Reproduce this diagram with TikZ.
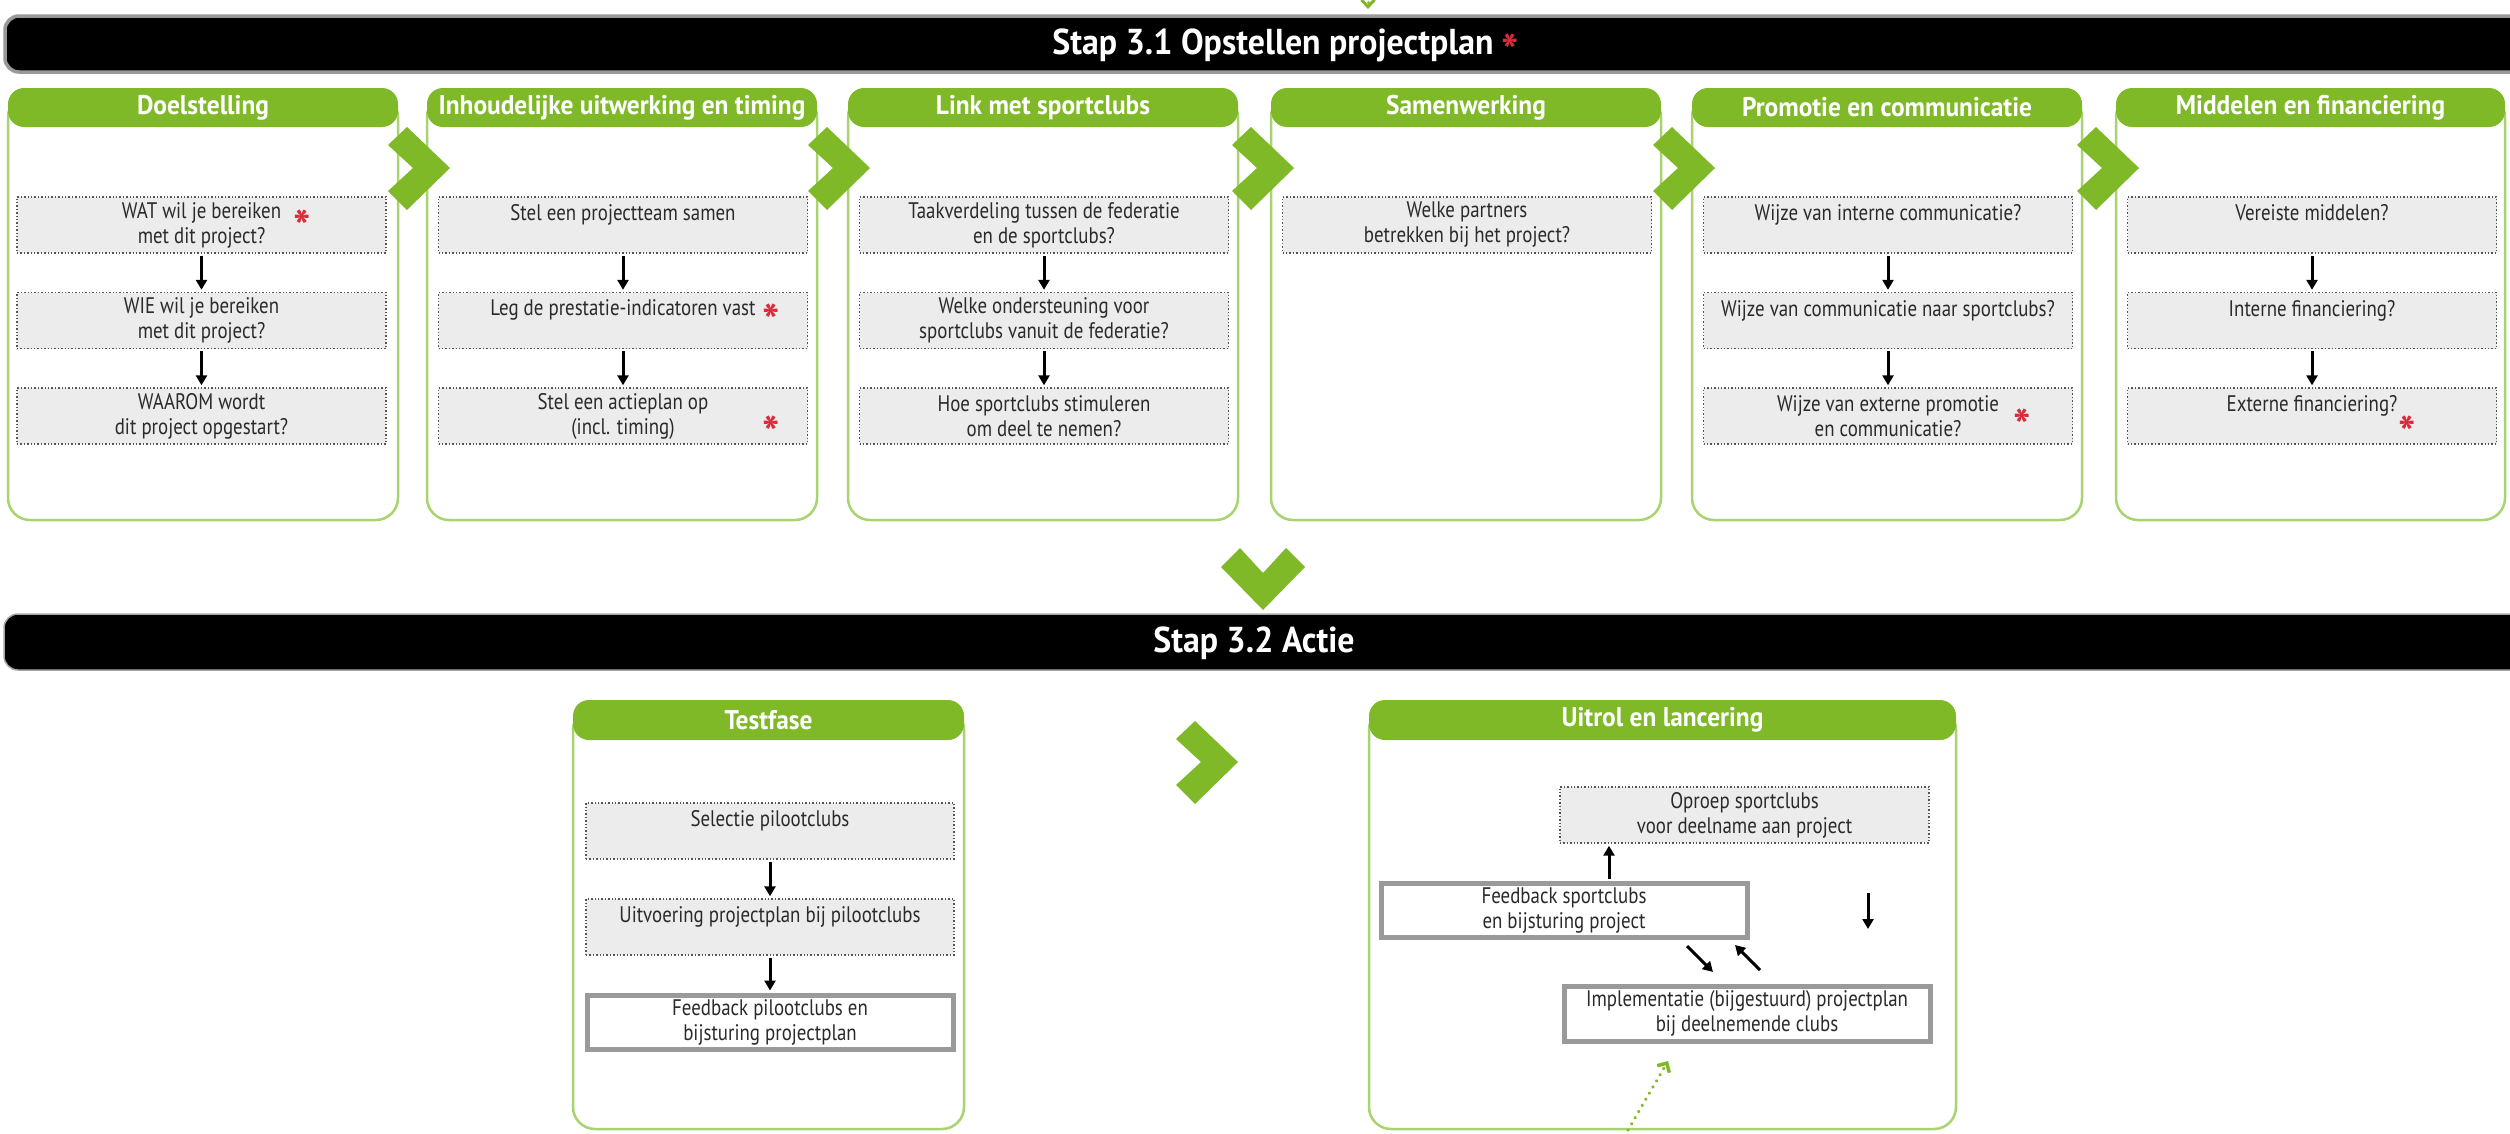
\documentclass[tikz,border=0pt]{standalone}
\usepackage{fontspec}
\setmainfont{PT Sans}
\newfontfamily\bodyf{PT Sans}[FakeStretch=0.84]
\newfontfamily\headf{PT Sans}[FakeStretch=0.94]
\newfontfamily\starf{PT Sans}
\usetikzlibrary{arrows.meta}
\definecolor{hgreen}{HTML}{7FB928}
\definecolor{pgreen}{HTML}{A8D46F}
\definecolor{boxfill}{HTML}{ECECEC}
\definecolor{dotc}{HTML}{555555}
\definecolor{txt}{HTML}{2A2A2A}
\definecolor{starred}{HTML}{D92B3A}
\definecolor{fbgray}{HTML}{9A9A9A}
\newcommand{\chevright}[2]{\fill[hgreen] (#1-62,#2-23) -- (#1-43,#2-41) -- (#1,#2) -- (#1-43,#2+42) -- (#1-62,#2+23) -- (#1-37,#2) -- cycle;}
\begin{document}
\begin{tikzpicture}[x=1pt,y=-1pt,
  panel/.style={draw=pgreen, line width=2.5pt, rounded corners=22pt, fill=white},
  hdr/.style={rectangle, fill=hgreen, rounded corners=16pt, minimum height=39pt, inner sep=0pt, text=white, font=\headf\bfseries\fontsize{27}{29}\selectfont},
  qbox/.style={rectangle, fill=boxfill, draw=dotc, dotted, line width=1.4pt, minimum width=369pt, minimum height=56pt, inner sep=0pt, align=center, text=txt, font=\bodyf\fontsize{22.5}{25}\selectfont},
  solidbox/.style={rectangle, fill=white, draw=fbgray, line width=5pt, minimum width=370pt, minimum height=58pt, inner sep=0pt, align=center, text=txt, font=\bodyf\fontsize{22.5}{25}\selectfont},
  arr/.style={-{Triangle[length=10pt,width=11pt]}, line width=3pt, black, shorten <=2pt, shorten >=2pt},
  freearr/.style={-{Triangle[length=10pt,width=11pt]}, line width=3pt, black},
  redstar/.style={text=starred, anchor=base, inner sep=0pt, font=\starf\bfseries\fontsize{46}{46}\selectfont},
  bartitle/.style={text=white, font=\headf\bfseries\fontsize{36}{40}\selectfont}]
\useasboundingbox (0,0) rectangle (2510,1133);
\fill[white] (0,0) rectangle (2510,1133);

% top bar
\draw[line width=3.5pt, draw=black!40, fill=black, rounded corners=14pt] (5,16) rectangle (2545,72);
\node[bartitle] (t31) at (1273,45) {Stap 3.1 Opstellen projectplan};
\node[redstar] (st0) at (1510,67) {*};
% small green arrow tip at top
\coordinate (tvs) at (1368,-40);
\coordinate (tve) at (1368,9);
\draw[hgreen, line width=3pt, dash pattern={on 0.1pt off 7pt}, line cap=round, -{Straight Barb[length=7pt,width=13pt]}] (tvs) -- (tve);

% ---------- panels ----------
% 1 Doelstelling
\draw[panel] (8,95) rectangle (398,520);
\node[hdr, minimum width=390pt] (h1) at (203,107.5) {Doelstelling};
\node[qbox] (a11) at (201.5,225) {WAT wil je bereiken\\met dit project?};
\node[qbox] (a12) at (201.5,320.5) {WIE wil je bereiken\\met dit project?};
\node[qbox] (a13) at (201.5,416) {WAAROM wordt\\dit project opgestart?};
\draw[arr] (a11) -- (a12);
\draw[arr] (a12) -- (a13);
\node[redstar] (st1) at (302,243) {*};

% 2 Inhoudelijke uitwerking
\draw[panel] (427,95) rectangle (817,520);
\node[hdr, minimum width=390pt] (h2) at (622,107.5) {Inhoudelijke uitwerking en timing};
\node[qbox] (a21) at (623,225) {Stel een projectteam samen\\\mbox{}};
\node[qbox] (a22) at (623,320.5) {Leg de prestatie-indicatoren vast\\\mbox{}};
\node[qbox] (a23) at (623,416) {Stel een actieplan op\\(incl. timing)};
\draw[arr] (a21) -- (a22);
\draw[arr] (a22) -- (a23);
\node[redstar] (st2) at (771,337) {*};
\node[redstar] (st3) at (771,449) {*};

% 3 Link met sportclubs
\draw[panel] (848,95) rectangle (1238,520);
\node[hdr, minimum width=390pt] (h3) at (1043,107.5) {Link met sportclubs};
\node[qbox] (a31) at (1044,225) {Taakverdeling tussen de federatie\\en de sportclubs?};
\node[qbox] (a32) at (1044,320.5) {Welke ondersteuning voor\\sportclubs vanuit de federatie?};
\node[qbox] (a33) at (1044,416) {Hoe sportclubs stimuleren\\om deel te nemen?};
\draw[arr] (a31) -- (a32);
\draw[arr] (a32) -- (a33);

% 4 Samenwerking
\draw[panel] (1271,95) rectangle (1661,520);
\node[hdr, minimum width=390pt] (h4) at (1466,107.5) {Samenwerking};
\node[qbox] (a41) at (1467,225) {Welke partners\\betrekken bij het project?};

% 5 Promotie en communicatie
\draw[panel] (1692,95) rectangle (2082,520);
\node[hdr, minimum width=390pt] (h5) at (1887,107.5) {Promotie en communicatie};
\node[qbox] (a51) at (1888,225) {Wijze van interne communicatie?\\\mbox{}};
\node[qbox] (a52) at (1888,320.5) {Wijze van communicatie naar sportclubs?\\\mbox{}};
\node[qbox] (a53) at (1888,416) {Wijze van externe promotie\\en communicatie?};
\draw[arr] (a51) -- (a52);
\draw[arr] (a52) -- (a53);
\node[redstar] (st4) at (2022,442) {*};

% 6 Middelen en financiering
\draw[panel] (2116,95) rectangle (2505,520);
\node[hdr, minimum width=389pt] (h6) at (2310.5,107.5) {Middelen en financiering};
\node[qbox] (a61) at (2312,225) {Vereiste middelen?\\\mbox{}};
\node[qbox] (a62) at (2312,320.5) {Interne financiering?\\\mbox{}};
\node[qbox] (a63) at (2312,416) {Externe financiering?\\\mbox{}};
\draw[arr] (a61) -- (a62);
\draw[arr] (a62) -- (a63);
\node[redstar] (st5) at (2407,449) {*};

% chevrons between panels
\chevright{450}{168}
\chevright{870}{168}
\chevright{1294}{168}
\chevright{1715}{168}
\chevright{2139}{168}

% down chevron
\fill[hgreen] (1221,567) -- (1240,548) -- (1263,573) -- (1286,548) -- (1305,567) -- (1263,610) -- cycle;

% second bar
\draw[line width=1.5pt, draw=black!35, fill=black, rounded corners=14pt] (4,614) rectangle (2545,670);
\node[bartitle] (t32) at (1254,643) {Stap 3.2 Actie};

% ---------- Testfase ----------
\draw[panel] (573,708) rectangle (964,1129);
\node[hdr, minimum width=391pt, minimum height=40pt] (h7) at (768.5,720) {Testfase};
\node[qbox, minimum width=368pt] (b1) at (770,831) {Selectie pilootclubs\\\mbox{}};
\node[qbox, minimum width=368pt] (b2) at (770,927) {Uitvoering projectplan bij pilootclubs\\\mbox{}};
\node[solidbox, minimum width=366pt, minimum height=54pt] (b3) at (770,1022) {Feedback pilootclubs en\\bijsturing projectplan};
\draw[arr] (b1) -- (b2);
\draw[arr] (b2) -- (b3);

\chevright{1238}{762}

% ---------- Uitrol en lancering ----------
\draw[panel] (1369,708) rectangle (1956,1129);
\node[hdr, minimum width=587pt, minimum height=40pt] (h8) at (1662.5,720) {Uitrol en lancering};
\node[qbox] (u1) at (1744.5,815) {Oproep sportclubs\\voor deelname aan project};
\node[solidbox, minimum width=366pt, minimum height=54pt] (u2) at (1564,910) {Feedback sportclubs\\en bijsturing project};
\node[solidbox, minimum width=366pt, minimum height=55pt] (u3) at (1747,1013.5) {Implementatie (bijgestuurd) projectplan\\bij deelnemende clubs};
\coordinate (ux) at (1609,0);
\draw[arr] (u2.north -| ux) -- (u1.south -| ux);
\coordinate (d1s) at (1868,893);
\coordinate (d1e) at (1868,929);
\draw[freearr] (d1s) -- (d1e);
\coordinate (g1s) at (1687,946);
\coordinate (g1e) at (1713,972);
\draw[freearr] (g1s) -- (g1e);
\coordinate (g2s) at (1760,970);
\coordinate (g2e) at (1735,945);
\draw[freearr] (g2s) -- (g2e);
\coordinate (gs) at (1628,1130);
\coordinate (ge) at (1668,1061);
\draw[hgreen, line width=3.5pt, dash pattern={on 0.1pt off 7pt}, line cap=round, -{Straight Barb[length=7pt,width=14pt]}] (gs) -- (ge);
\end{tikzpicture}
\end{document}
